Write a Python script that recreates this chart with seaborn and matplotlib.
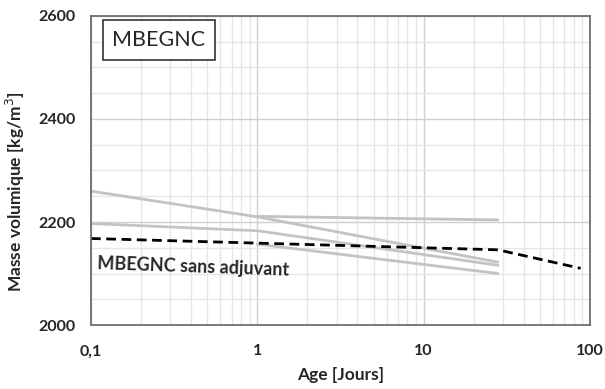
import matplotlib
matplotlib.use("Agg")
import matplotlib.pyplot as plt
import matplotlib.ticker as mticker
import seaborn as sns
import pandas as pd

# grey curves (mixes with admixture)
age_a = [0.1, 1, 28]
rho_a = [2260, 2210, 2122]
age_b = [0.1, 1, 28]
rho_b = [2197, 2183, 2116]
age_c = [1, 28]
rho_c = [2211, 2204]
age_d = [1, 28]
rho_d = [2157, 2100]

# reference mix without admixture (dashed)
age_ref = [0.1, 28, 88]
rho_ref = [2168, 2146, 2110]

x_ticks = [0.1, 1, 10, 100]
x_labels = ["0,1", "1", "10", "100"]
y_ticks = [2000, 2200, 2400, 2600]

sns.set_style("white")
plt.rcParams["font.family"] = ["Lato", "DejaVu Sans"]

fig = plt.figure(figsize=(6.05, 3.89), dpi=100)
ax = fig.add_axes([0.1504, 0.1645, 0.8246, 0.7944])

grey = pd.DataFrame({
    "age": age_a + age_b + age_c + age_d,
    "rho": rho_a + rho_b + rho_c + rho_d,
    "serie": ["A"] * len(age_a) + ["B"] * len(age_b) + ["C"] * len(age_c) + ["D"] * len(age_d),
})
for name, grp in grey.groupby("serie"):
    sns.lineplot(data=grp, x="age", y="rho", ax=ax, color="#c3c3c3",
                 linewidth=2, estimator=None, sort=False)

ref = pd.DataFrame({"age": age_ref, "rho": rho_ref})
sns.lineplot(data=ref, x="age", y="rho", ax=ax, color="black",
             linewidth=2, linestyle=(0, (3.5, 2)), estimator=None, sort=False)

ax.set_xscale("log")
ax.set_xlim(0.1, 100)
ax.set_ylim(2000, 2600)
ax.set_xticks(x_ticks)
ax.set_xticklabels(x_labels)
ax.xaxis.set_minor_locator(mticker.LogLocator(base=10, subs=range(2, 10)))
ax.xaxis.set_minor_formatter(mticker.NullFormatter())
ax.set_yticks(y_ticks)
ax.yaxis.set_minor_locator(mticker.MultipleLocator(50))

ax.grid(which="major", color="#d0d0d0", linewidth=1)
ax.grid(which="minor", color="#e6e6e6", linewidth=1)
ax.set_axisbelow(True)

for s in ax.spines.values():
    s.set_color("#6e6e6e")
    s.set_linewidth(1.3)

ax.tick_params(axis="both", which="major", direction="out", length=5,
               color="#bdbdbd", labelsize=11.5, pad=6)
ax.tick_params(axis="x", which="major", pad=9)
ax.tick_params(axis="both", which="minor", length=0)
for lab in ax.get_xticklabels() + ax.get_yticklabels():
    lab.set_fontweight("bold")

ax.set_xlabel("Age [Jours]", fontsize=12.5, fontweight="bold", labelpad=6)
ax.set_ylabel("Masse volumique [kg/m$^3$]", fontsize=12.5, fontweight="bold")
ax.yaxis.set_label_coords(-0.128, 0.43)

ax.text(0.043, 0.955, "MBEGNC", transform=ax.transAxes, fontsize=15.5,
        va="top", ha="left",
        bbox=dict(boxstyle="square,pad=0.45", facecolor="white",
                  edgecolor="#333333", linewidth=1.2))
ax.text(0.012, 0.2, "MBEGNC sans adjuvant", transform=ax.transAxes,
        fontsize=13, fontweight="bold", va="center", ha="left",
        rotation=-2, rotation_mode="anchor")

fig.savefig("out.png", dpi=100)
